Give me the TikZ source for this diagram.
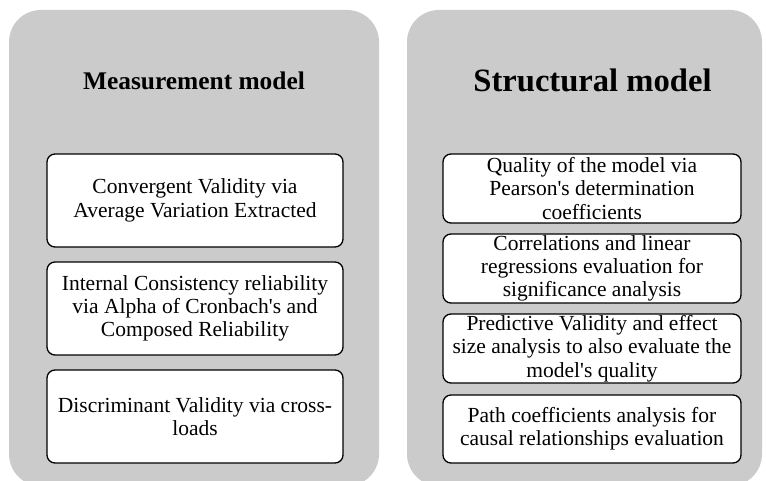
\documentclass[tikz,border=0pt]{standalone}
\usepackage{fontspec}
\setmainfont{Liberation Serif}
\definecolor{panelgrey}{HTML}{CBCBCB}
\begin{document}
\begin{tikzpicture}[x=1pt,y=-1pt,
  panel/.style={fill=panelgrey,draw=none,rounded corners=32pt},
  itembox/.style={draw=black,line width=1.3pt,fill=white,rounded corners=8pt,
    align=center,inner sep=0pt,font=\fontsize{21.5}{23.3}\selectfont},
  titletext/.style={anchor=base,inner sep=0pt,font=\bfseries}]
\useasboundingbox (0,0) rectangle (766,481);
\clip (0,0) rectangle (766,481);
\fill[white] (0,0) rectangle (766,481);
% panels
\path[panel] (9,10) rectangle (379,486);
\path[panel] (407,10) rectangle (762,486);
% titles
\node[titletext,font=\bfseries\fontsize{25.4}{28}\selectfont] (t1) at (194,90) {Measurement model};
\node[titletext,font=\bfseries\fontsize{32.6}{36}\selectfont] (t2) at (592.5,92) {Structural model};
% left boxes
\node[itembox,minimum width=296pt,minimum height=93pt] (l1) at (195,200.5)
  {Convergent Validity via\\Average Variation Extracted};
\node[itembox,minimum width=296pt,minimum height=93pt] (l2) at (195,308.5)
  {Internal Consistency reliability\\via Alpha of Cronbach\textquotesingle s and\\Composed Reliability};
\node[itembox,minimum width=296pt,minimum height=93pt] (l3) at (195,416.5)
  {Discriminant Validity via cross-\\loads};
% right boxes
\node[itembox,minimum width=298pt,minimum height=69pt] (r1) at (592,188.5)
  {Quality of the model via\\Pearson\textquotesingle s determination\\coefficients};
\node[itembox,minimum width=298pt,minimum height=69pt] (r2) at (592,268.5)
  {Correlations and linear\\regressions evaluation for\\significance analysis};
\node[itembox,minimum width=298pt,minimum height=69pt] (r3) at (592,348.5)
  {Predictive Validity and effect\\size analysis to also evaluate the\\model\textquotesingle s quality};
\node[itembox,minimum width=298pt,minimum height=68pt] (r4) at (592,429)
  {Path coefficients analysis for\\causal relationships evaluation};
\end{tikzpicture}
\end{document}
